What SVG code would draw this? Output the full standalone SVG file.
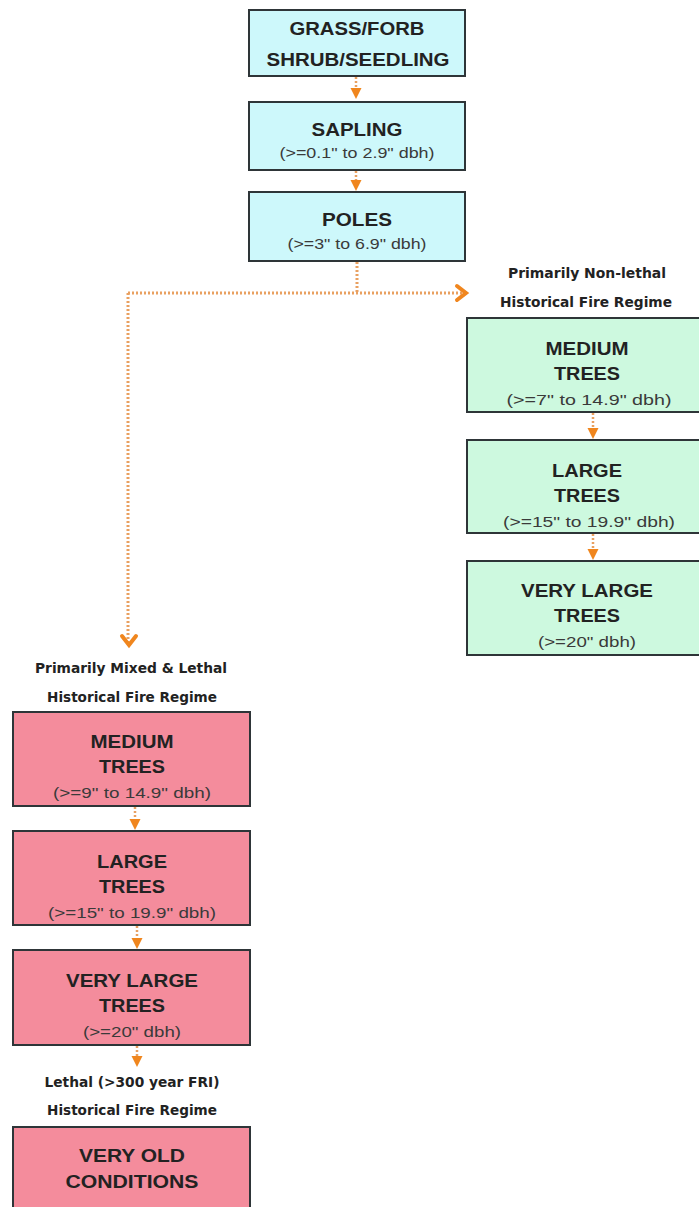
<svg xmlns="http://www.w3.org/2000/svg" width="699" height="1207" viewBox="0 0 699 1207">
<style>
.box{stroke:#2e3538;stroke-width:2}
.cyan{fill:#cdf8fb}
.green{fill:#cdf9df}
.red{fill:#f48c9c}
.t{font-family:"Liberation Sans",Arial,sans-serif;font-weight:bold;font-size:17.5px;fill:#222;text-anchor:middle}
.s{font-family:"Liberation Sans",Arial,sans-serif;font-size:14.5px;fill:#3a3a3a;text-anchor:middle}
.lab{font-family:"DejaVu Sans","Liberation Sans",sans-serif;font-weight:bold;font-size:13.5px;fill:#222;text-anchor:middle}
.dot{fill:none;stroke:#e9a060;stroke-width:3;stroke-dasharray:2 2}
.sdot{fill:none;stroke:#e9a060;stroke-width:2.5;stroke-dasharray:2 2}
.head{fill:#f0861e}
.chev{fill:none;stroke:#f0861e;stroke-width:4;stroke-linecap:round;stroke-linejoin:miter}
</style>
<rect width="699" height="1207" fill="#ffffff"/>
<g id="connectors">
<path class="sdot" d="M356,77 V88"/><polygon class="head" points="350.5,88 361.5,88 356,99"/>
<path class="sdot" d="M356,171 V180"/><polygon class="head" points="350.5,180 361.5,180 356,191"/>
<path class="dot" d="M357,262 V293 M128,293 H462 M128,293 V644"/>
<polyline class="chev" points="457,286 466,293 457,300"/>
<polyline class="chev" points="122,636 129,645 136,636"/>
<path class="sdot" d="M593,413 V428"/><polygon class="head" points="587.5,428 598.5,428 593,439"/>
<path class="sdot" d="M593,534 V549"/><polygon class="head" points="587.5,549 598.5,549 593,560"/>
<path class="sdot" d="M135,807 V819"/><polygon class="head" points="129.5,819 140.5,819 135,830"/>
<path class="sdot" d="M137,926 V938"/><polygon class="head" points="131.5,938 142.5,938 137,949"/>
<path class="sdot" d="M137,1046 V1056"/><polygon class="head" points="131.5,1056 142.5,1056 137,1067"/>
</g>
<g id="grass">
<rect class="box cyan" x="249" y="10" width="216" height="66"/>
<text class="t" x="357" y="35" textLength="135" lengthAdjust="spacingAndGlyphs">GRASS/FORB</text>
<text class="t" x="358" y="66" textLength="183" lengthAdjust="spacingAndGlyphs">SHRUB/SEEDLING</text>
</g>
<g id="sapling">
<rect class="box cyan" x="249" y="102" width="216" height="68"/>
<text class="t" x="357" y="136" textLength="91" lengthAdjust="spacingAndGlyphs">SAPLING</text>
<text class="s" x="357" y="158" textLength="155" lengthAdjust="spacingAndGlyphs">(&gt;=0.1" to 2.9" dbh)</text>
</g>
<g id="poles">
<rect class="box cyan" x="249" y="192" width="216" height="69"/>
<text class="t" x="357" y="226" textLength="70" lengthAdjust="spacingAndGlyphs">POLES</text>
<text class="s" x="357" y="249" textLength="139" lengthAdjust="spacingAndGlyphs">(&gt;=3" to 6.9" dbh)</text>
</g>
<g id="label-nonlethal">
<text class="lab" x="587" y="278" textLength="158" lengthAdjust="spacingAndGlyphs">Primarily Non-lethal</text>
<text class="lab" x="586" y="307" textLength="172" lengthAdjust="spacingAndGlyphs">Historical Fire Regime</text>
</g>
<g id="g-medium">
<rect class="box green" x="467" y="318" width="240" height="94"/>
<text class="t" x="587" y="355" textLength="83" lengthAdjust="spacingAndGlyphs">MEDIUM</text>
<text class="t" x="587" y="380" textLength="66" lengthAdjust="spacingAndGlyphs">TREES</text>
<text class="s" x="589" y="405" textLength="165" lengthAdjust="spacingAndGlyphs">(&gt;=7" to 14.9" dbh)</text>
</g>
<g id="g-large">
<rect class="box green" x="467" y="440" width="240" height="93"/>
<text class="t" x="587" y="477" textLength="70" lengthAdjust="spacingAndGlyphs">LARGE</text>
<text class="t" x="587" y="502" textLength="66" lengthAdjust="spacingAndGlyphs">TREES</text>
<text class="s" x="589" y="527" textLength="172" lengthAdjust="spacingAndGlyphs">(&gt;=15" to 19.9" dbh)</text>
</g>
<g id="g-verylarge">
<rect class="box green" x="467" y="561" width="240" height="94"/>
<text class="t" x="587" y="597" textLength="132" lengthAdjust="spacingAndGlyphs">VERY LARGE</text>
<text class="t" x="587" y="622" textLength="66" lengthAdjust="spacingAndGlyphs">TREES</text>
<text class="s" x="587" y="647" textLength="98" lengthAdjust="spacingAndGlyphs">(&gt;=20" dbh)</text>
</g>
<g id="label-mixed">
<text class="lab" x="131" y="673" textLength="192" lengthAdjust="spacingAndGlyphs">Primarily Mixed &amp; Lethal</text>
<text class="lab" x="132" y="702" textLength="170" lengthAdjust="spacingAndGlyphs">Historical Fire Regime</text>
</g>
<g id="r-medium">
<rect class="box red" x="13" y="712" width="237" height="94"/>
<text class="t" x="132" y="748" textLength="83" lengthAdjust="spacingAndGlyphs">MEDIUM</text>
<text class="t" x="132" y="773" textLength="66" lengthAdjust="spacingAndGlyphs">TREES</text>
<text class="s" x="132" y="798" textLength="158" lengthAdjust="spacingAndGlyphs">(&gt;=9" to 14.9" dbh)</text>
</g>
<g id="r-large">
<rect class="box red" x="13" y="831" width="237" height="94"/>
<text class="t" x="132" y="868" textLength="70" lengthAdjust="spacingAndGlyphs">LARGE</text>
<text class="t" x="132" y="893" textLength="66" lengthAdjust="spacingAndGlyphs">TREES</text>
<text class="s" x="132" y="918" textLength="168" lengthAdjust="spacingAndGlyphs">(&gt;=15" to 19.9" dbh)</text>
</g>
<g id="r-verylarge">
<rect class="box red" x="13" y="950" width="237" height="95"/>
<text class="t" x="132" y="987" textLength="132" lengthAdjust="spacingAndGlyphs">VERY LARGE</text>
<text class="t" x="132" y="1012" textLength="66" lengthAdjust="spacingAndGlyphs">TREES</text>
<text class="s" x="132" y="1037" textLength="98" lengthAdjust="spacingAndGlyphs">(&gt;=20" dbh)</text>
</g>
<g id="label-lethal">
<text class="lab" x="132" y="1087" textLength="175" lengthAdjust="spacingAndGlyphs">Lethal (&gt;300 year FRI)</text>
<text class="lab" x="132" y="1115" textLength="170" lengthAdjust="spacingAndGlyphs">Historical Fire Regime</text>
</g>
<g id="r-veryold">
<rect class="box red" x="13" y="1127" width="237" height="90"/>
<text class="t" x="132" y="1162" textLength="106" lengthAdjust="spacingAndGlyphs">VERY OLD</text>
<text class="t" x="132" y="1188" textLength="133" lengthAdjust="spacingAndGlyphs">CONDITIONS</text>
</g>
</svg>
